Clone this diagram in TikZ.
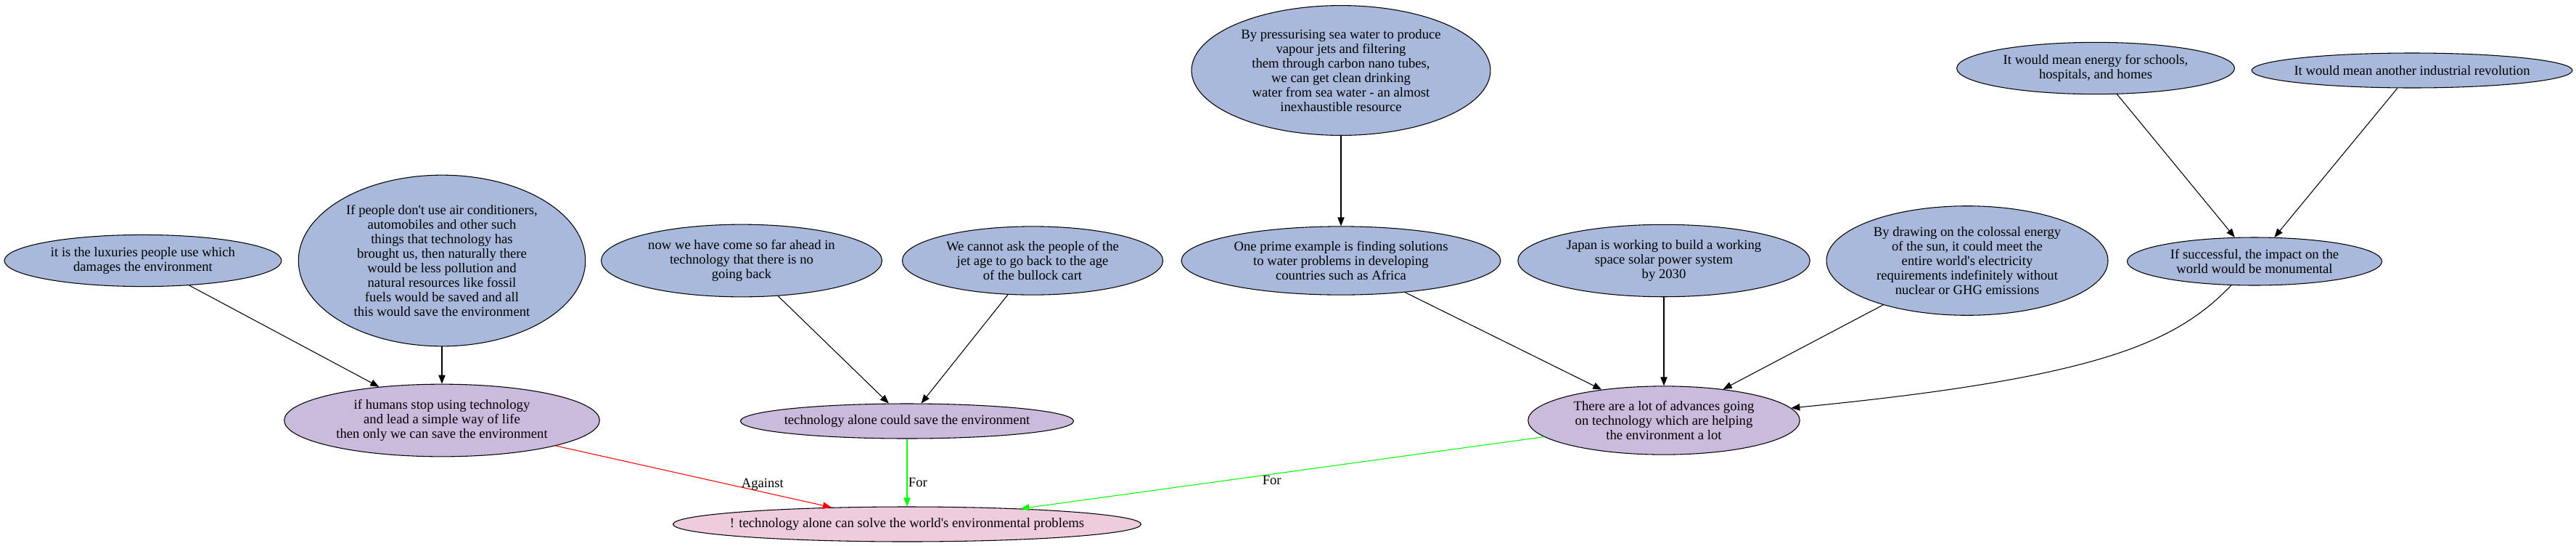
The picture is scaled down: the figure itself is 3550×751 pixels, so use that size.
\documentclass[tikz,border=0pt]{standalone}
\usepackage{fontspec}
\setmainfont{Liberation Serif}
\usetikzlibrary{shapes.geometric,arrows.meta}
\definecolor{premise}{RGB}{169,185,219}
\definecolor{reason}{RGB}{202,186,220}
\definecolor{claimpink}{RGB}{238,204,221}
\definecolor{forgreen}{RGB}{0,255,0}
\definecolor{againstred}{RGB}{255,0,0}
\newcommand{\sq}{\textquotesingle}
\tikzset{
  argbox/.style={ellipse, draw, line width=0.8pt, fill=premise, align=center,
    font=\fontsize{14}{15}\selectfont, inner xsep=6pt, inner ysep=5pt, minimum height=36pt},
  reasonbox/.style={argbox, fill=reason},
  claimbox/.style={argbox, fill=claimpink},
  onerow/.style={inner xsep=#1},
  link/.style={-{Triangle[length=9pt,width=7pt]}, line width=0.8pt},
  pro/.style={link, draw=forgreen},
  con/.style={link, draw=againstred},
  linklabel/.style={font=\fontsize{14}{15}\selectfont, inner sep=1pt}
}

\begin{document}
\begin{tikzpicture}[x=0.75pt, y=-0.75pt]
        \useasboundingbox (0,0) rectangle (3550,751);

        \node[argbox] (lux) at (197,359) {it is the luxuries people use which\\damages the environment};
        \node[argbox] (aircon) at (609,359) {If people don\sq t use air conditioners,\\automobiles and other such\\things that technology has\\brought us, then naturally there\\would be less pollution and\\natural resources like fossil\\fuels would be saved and all\\this would save the environment};
        \node[argbox] (farahead) at (1022,359) {now we have come so far ahead in\\technology that there is no\\going back};
        \node[argbox] (jetage) at (1423,359) {We cannot ask the people of the\\jet age to go back to the age\\of the bullock cart};
        \node[argbox] (seawater) at (1848,97) {By pressurising sea water to produce\\vapour jets and filtering\\them through carbon nano tubes,\\we can get clean drinking\\water from sea water - an almost\\inexhaustible resource};
        \node[argbox] (water) at (1848,359) {One prime example is finding solutions\\to water problems in developing\\countries such as Africa};
        \node[argbox] (japan) at (2293,359) {Japan is working to build a working\\space solar power system\\by 2030};
        \node[argbox] (solar) at (2711,359) {By drawing on the colossal energy\\of the sun, it could meet the\\entire world\sq s electricity\\requirements indefinitely without\\nuclear or GHG emissions};
        \node[argbox] (schools) at (2888,94) {It would mean energy for schools,\\hospitals, and homes};
        \node[argbox, onerow=-4.7pt] (revolution) at (3324,97) {It would mean another industrial revolution};
        \node[argbox] (success) at (3107,360) {If successful, the impact on the\\world would be monumental};

        \node[reasonbox] (stoptech) at (609,579) {if humans stop using technology\\and lead a simple way of life\\then only we can save the environment};
        \node[reasonbox, onerow=-5.2pt] (alone) at (1250,580) {technology alone could save the environment};
        \node[reasonbox] (advances) at (2293,579) {There are a lot of advances going\\on technology which are helping\\the environment a lot};
        \node[claimbox, onerow=-12pt] (claim) at (1250,722) {! technology alone can solve the world\sq s environmental problems};

        \draw[link] (lux) -- (stoptech);
        \draw[link] (aircon) -- (stoptech);
        \draw[link] (farahead) -- (alone);
        \draw[link] (jetage.-126) -- (alone);
        \draw[link] (seawater) -- (water);
        \draw[link] (water) -- (advances);
        \draw[link] (japan) -- (advances);
        \draw[link] (solar) -- (advances);
        \draw[link] (schools) -- (success);
        \draw[link] (revolution) -- (success);
        \draw[link] (success) .. controls (3000,470) and (2900,520) .. (advances);

        \draw[con] (stoptech) -- node[linklabel, pos=0.75, above] {Against} (claim);
        \draw[pro] (alone) -- node[linklabel, pos=0.65, right] {For} (claim);
        \draw[pro] (advances) -- node[linklabel, pos=0.52, below] {For} (claim);
\end{tikzpicture}
\end{document}
